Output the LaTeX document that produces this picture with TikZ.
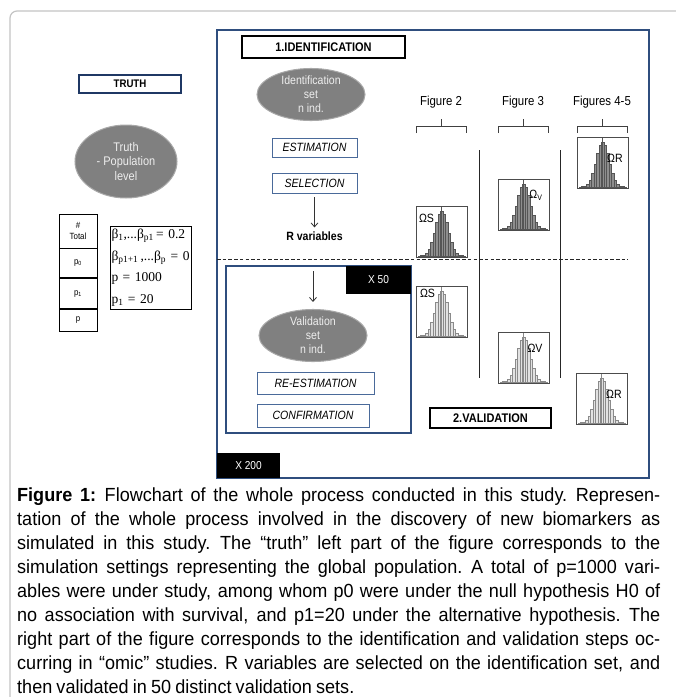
\documentclass[tikz,border=0pt]{standalone}
\usepackage{fontspec}
\setmainfont{Liberation Sans}[FakeStretch=0.88]
\newfontfamily\capfont{Liberation Sans}[FakeStretch=0.95]
\newfontfamily\serifgr{Liberation Serif}
\usetikzlibrary{shapes.geometric,arrows.meta}
\definecolor{navy}{HTML}{1F3864}
\definecolor{bframe}{HTML}{2F4E7E}
\definecolor{sframe}{HTML}{4A6A9A}
\definecolor{ellfill}{HTML}{808080}
\definecolor{elledge}{HTML}{A8A8A8}
\definecolor{elltext}{HTML}{EEEEEE}
\definecolor{hdark}{HTML}{8E8E8E}
\definecolor{hdarkline}{HTML}{555555}
\definecolor{hlight}{HTML}{E2E2E2}
\definecolor{hlightline}{HTML}{8A8A8A}
\definecolor{outerframe}{HTML}{C4C4C4}
\newcommand\myfs[2]{\fontsize{#1}{#2}\selectfont}
\newcommand\capspacing{\spaceskip=0.22em plus 4em minus 0.05em\relax\xspaceskip=0.27em plus 4em\relax}
\newcommand\capline[1]{\hbox to 643pt{#1}}
\tikzset{
  titlebox/.style={draw=black, line width=1.4pt, fill=white, inner sep=0pt, font=\bfseries\myfs{12.5}{14}},
  stepbox/.style={draw=sframe, line width=0.9pt, fill=white, inner sep=0pt, font=\itshape\myfs{12}{14}},
  setell/.style={ellipse, fill=ellfill, draw=elledge, line width=1pt, inner sep=0pt, text=elltext, align=center, font=\myfs{12}{14}},
  blackbox/.style={fill=black, text=white, inner sep=0pt, font=\myfs{11.5}{13}},
  cell/.style={draw=black, line width=0.8pt, inner sep=0pt, minimum width=38pt, align=center, font=\myfs{9}{11}},
  figlab/.style={font=\myfs{13}{15}, inner sep=0pt},
  brace/.style={draw=black!75, line width=0.8pt},
  histframe/.style={draw=black!70, line width=0.9pt},
  histlab/.style={font=\myfs{12}{13}, inner sep=0pt},
  arr/.style={-{Straight Barb[length=4pt,width=7pt]}, line width=0.8pt, draw=black!80},
}
\newcommand\histo[6]{%
\begin{scope}[shift={(#1,#2)}]
\fill[white] (0,0) rectangle (51,51);
\foreach \i in {-9,...,9}{%
 \pgfmathsetmacro\hh{45*exp(-((\i)*(\i))/(2*2.6*2.6))+0.6}
 \draw[fill=#3,draw=#4,line width=0.3pt] ({25.5+(\i-0.5)*2.5},50.5) rectangle ({25.5+(\i+0.5)*2.5},{50.5-\hh});
}
\draw[#4,line width=0.5pt] (25.5,0) -- (25.5,51);
\draw[histframe] (0,0) rectangle (51,51);
\node[histlab] at (#6) {#5};
\end{scope}}
\begin{document}
\begin{tikzpicture}[x=1pt,y=-1pt]
\useasboundingbox (0,0) rectangle (676,697);
\fill[white] (0,0) rectangle (676,697);
% outer light frame
\draw[outerframe, line width=1.2pt, rounded corners=7pt] (10,710) -- (10,11) -- (690,11);

% main box
\draw[bframe, line width=1.3pt] (217,30) rectangle (649,478);

% truth part
\node[draw=navy, line width=1.3pt, inner sep=0pt, minimum width=102pt, minimum height=18pt, font=\bfseries\myfs{11}{13}] (truthtitle) at (130,84) {TRUTH};
\node[setell, minimum width=102pt, minimum height=73pt, font=\myfs{12.5}{14.5}] (truthell) at (126,161.5) {Truth\\- Population\\level};

\node[cell, minimum height=34pt] (ctotal) at (78,231) {\#\\Total};
\node[cell, minimum height=29pt, anchor=north] (cp0) at (ctotal.south) {p\textsubscript{0}};
\node[cell, minimum height=30pt, anchor=north] (cp1) at (cp0.south) {p\textsubscript{1}};
\node[cell, minimum height=22pt, anchor=north] (cp) at (cp1.south) {p};

\node[draw=black, line width=0.9pt, inner sep=0pt, minimum width=81pt, minimum height=83pt, align=left, text width=78pt, font=\serifgr\myfs{13.5}{21.5}] (betas) at (150.5,267.5)
 {β\textsubscript{1},...β\textsubscript{p1}\,=\,\,0.2\\β\textsubscript{p1+1}\,,...β\textsubscript{p}\,\,=\,\,0\\p = 1000\\p\textsubscript{1}\,\,= 20};

% identification
\node[titlebox, minimum width=163pt, minimum height=22pt] (idtitle) at (323.5,47) {1.IDENTIFICATION};
\node[setell, minimum width=108pt, minimum height=51pt] (idell) at (311,94.5) {Identification\\set\\n ind.};
\node[stepbox, minimum width=85pt, minimum height=19pt] (est) at (314.5,147.5) {ESTIMATION};
\node[stepbox, minimum width=85pt, minimum height=20pt] (sel) at (314.5,183) {SELECTION};
\node[inner sep=1pt, font=\bfseries\myfs{12}{14}] (rvar) at (314.5,236) {R variables};
\draw[arr, shorten <=4pt, shorten >=3pt] (sel.south) -- (sel.south |- rvar.north);

% dashed separator
\coordinate (dashL) at (217,259);
\coordinate (dashR) at (628,259);
\draw[line width=1pt, black!85, dash pattern=on 3.5pt off 2.2pt] (dashL) -- (dashR);

% validation inner box
\draw[bframe, line width=1.2pt] (226,266) rectangle (411,433);
\node[blackbox, minimum width=65pt, minimum height=28pt] (x50) at (378.5,280) {X 50};
\coordinate (arstart) at (313,271);
\node[setell, minimum width=108pt, minimum height=51pt] (valell) at (313,335.5) {Validation\\set\\n ind.};
\draw[arr, shorten >=7pt] (arstart) -- (arstart |- valell.north);
\node[stepbox, minimum width=117pt, minimum height=22pt] (reest) at (315.5,383) {RE-ESTIMATION};
\node[stepbox, minimum width=112pt, minimum height=23pt] (conf) at (313,415.5) {CONFIRMATION};

\node[titlebox, minimum width=121pt, minimum height=20pt] (valtitle) at (490.5,418) {2.VALIDATION};
\node[blackbox, minimum width=63pt, minimum height=25pt] (x200) at (248.5,465.5) {X 200};

% figure labels and braces
\node[figlab] (f2) at (441,102) {Figure 2};
\node[figlab] (f3) at (523,102) {Figure 3};
\node[figlab] (f45) at (602,102) {Figures 4-5};
\draw[brace] (416,133) -- (416,126) -- (466,126) -- (466,133) (441,126) -- (441,119);
\draw[brace] (498,133) -- (498,126) -- (548,126) -- (548,133) (523,126) -- (523,119);
\draw[brace] (577,133) -- (577,126) -- (627,126) -- (627,133) (602,126) -- (602,119);

% vertical separators
\draw[black!85, line width=0.9pt] (479,150) -- (479,378);
\draw[black!85, line width=0.9pt] (560,150) -- (560,378);

% histograms
\histo{416}{206}{hdark}{hdarkline}{ΩS}{10.5,12}
\histo{498}{179}{hdark}{hdarkline}{Ω\textsubscript{V}}{38,16}
\histo{577}{137}{hdark}{hdarkline}{ΩR}{38,21}
\histo{416}{286}{hlight}{hlightline}{ΩS}{11.5,7}
\histo{498}{332}{hlight}{hlightline}{ΩV}{37,16}
\histo{576}{373}{hlight}{hlightline}{ΩR}{38,21}

% caption
\node[anchor=north west, inner sep=0pt, text width=643pt, font=\capfont\myfs{19}{24}] (caption) at (17,488) {\capspacing
\capline{\textbf{Figure 1:} Flowchart of the whole process conducted in this study. Represen-}
\capline{tation of the whole process involved in the discovery of new biomarkers as}
\capline{simulated in this study. The “truth” left part of the figure corresponds to the}
\capline{simulation settings representing the global population. A total of p=1000 vari-}
\capline{ables were under study, among whom p0 were under the null hypothesis H0 of}
\capline{no association with survival, and p1=20 under the alternative hypothesis. The}
\capline{right part of the figure corresponds to the identification and validation steps oc-}
\capline{curring in “omic” studies. R variables are selected on the identification set, and}
\capline{then validated in 50 distinct validation sets.\hfil}};
\end{tikzpicture}
\end{document}
